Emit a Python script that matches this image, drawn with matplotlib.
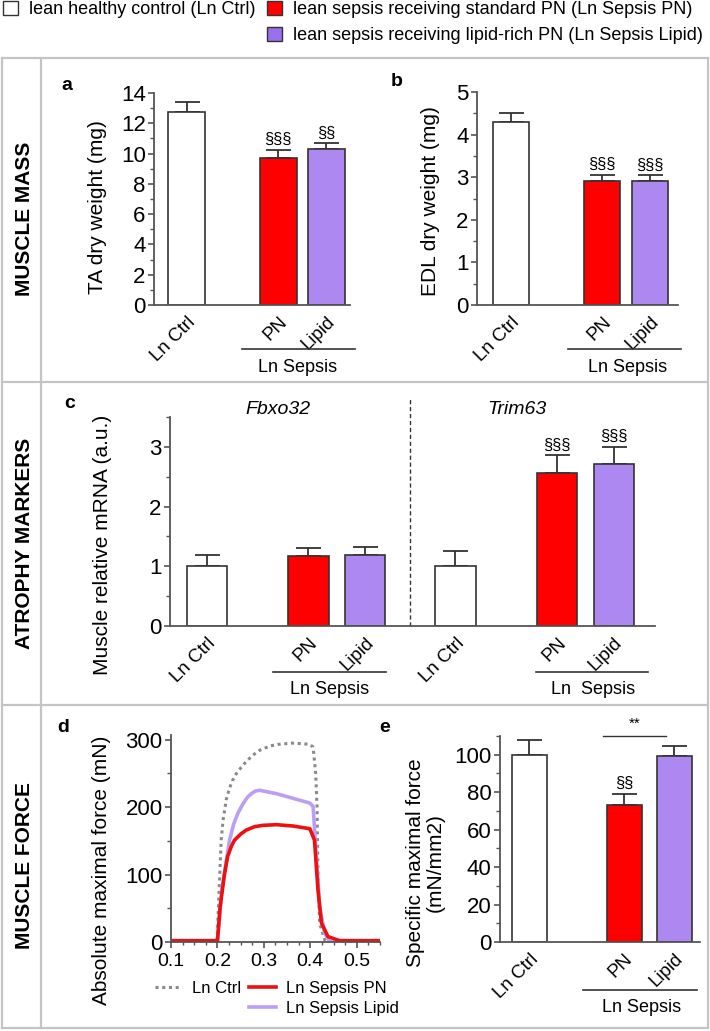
import matplotlib
matplotlib.use("Agg")
import matplotlib.pyplot as plt
from matplotlib.lines import Line2D
from matplotlib.patches import Patch
from matplotlib.ticker import MultipleLocator

plt.rcParams['font.family'] = ['Liberation Sans', 'DejaVu Sans']

# ---- data ----
groups = ['Ln Ctrl', 'PN', 'Lipid']

ta_mean = [12.75, 9.73, 10.28]
ta_err = [0.65, 0.50, 0.40]
ta_sig = ['', '§§§', '§§']

edl_mean = [4.30, 2.92, 2.91]
edl_err = [0.20, 0.13, 0.13]
edl_sig = ['', '§§§', '§§§']

fbxo_mean = [1.00, 1.17, 1.19]
fbxo_err = [0.19, 0.13, 0.14]
trim_mean = [1.00, 2.57, 2.71]
trim_err = [0.26, 0.29, 0.29]
trim_sig = ['', '§§§', '§§§']

spec_mean = [100.0, 72.9, 99.1]
spec_err = [7.8, 6.2, 5.7]
spec_sig = ['', '§§', '']

# force traces (time in s, force in mN)
ctrl_t = [0.10, 0.199, 0.2036, 0.208, 0.212, 0.219, 0.225, 0.232, 0.24, 0.25, 0.26, 0.27,
          0.28, 0.29, 0.30, 0.315, 0.33, 0.36, 0.385, 0.399,
          0.406, 0.4115, 0.4144, 0.4165, 0.420, 0.431, 0.44, 0.55]
ctrl_f = [0, 0, 77, 151, 180, 211, 226, 239, 249, 258, 266, 273,
          279, 284, 287, 291, 293, 295, 294, 293,
          289, 250, 201, 102, 28, 3, 0, 0]
pn_t = [0.10, 0.200, 0.2058, 0.215, 0.222, 0.23, 0.2367, 0.25, 0.262, 0.28, 0.298, 0.327,
        0.363, 0.399, 0.409, 0.4165, 0.424, 0.438, 0.463, 0.55]
pn_f = [2, 2, 52, 100, 127, 142, 151, 160, 166, 171, 173, 174,
        172, 168, 151, 77, 28, 8, 2, 2]
lip_t = [0.10, 0.200, 0.2094, 0.215, 0.226, 0.235, 0.244, 0.255, 0.265, 0.273, 0.282, 0.291,
         0.327, 0.363, 0.399, 0.406, 0.413, 0.420, 0.431, 0.442, 0.55]
lip_f = [0, 0, 77, 102, 151, 175, 191, 205, 215, 220, 224, 225,
         220, 213, 206, 201, 126, 52, 13, 0, 0]

colors = ['white', '#ff0000', '#ac88f0']
edge = '#333333'
spine_c = '#555555'

W, H = 710, 1031
fig = plt.figure(figsize=(W / 100, H / 100), dpi=100)


def fx(px):
    return px / W


def fy(py):
    return 1 - py / H


def axes_px(x0, y0, x1, y1):
    ax = fig.add_axes([x0 / W, 1 - y1 / H, (x1 - x0) / W, (y1 - y0) / H])
    for s in ['top', 'right']:
        ax.spines[s].set_visible(False)
    for s in ['left', 'bottom']:
        ax.spines[s].set_color(spine_c)
        ax.spines[s].set_linewidth(1.3)
    ax.tick_params(axis='y', which='major', length=4, width=1.2, color=spine_c,
                   labelsize=16, pad=2)
    ax.tick_params(axis='y', which='minor', length=3, width=1.0, color=spine_c)
    return ax


def bars(ax, pos, mean, err, width, sig=None):
    ax.bar(pos, mean, width=width, color=colors * (len(pos) // 3),
           edgecolor=edge, linewidth=1.2, zorder=2)
    ax.errorbar(pos, mean, yerr=[[0] * len(mean), err], fmt='none', ecolor=edge,
                elinewidth=1.3, capsize=9, capthick=1.3, zorder=1)
    if sig:
        for p, m, e, s in zip(pos, mean, err, sig):
            if s:
                ax.annotate(s, (p, m + e), xytext=(0, 2), textcoords='offset points',
                            ha='center', va='bottom', fontsize=12)


def xlabels(ax, pos, labels):
    ax.set_xticks(pos)
    ax.set_xticklabels(labels, rotation=45, ha='right', va='top',
                       rotation_mode='anchor', fontsize=13.5)
    ax.tick_params(axis='x', length=0, pad=6)


def fig_line(x0, x1, y, **kw):
    fig.add_artist(Line2D([fx(x0), fx(x1)], [fy(y), fy(y)], color=kw.get('color', '#333333'),
                          lw=kw.get('lw', 1.2)))


def fig_text(x, y, s, **kw):
    fig.text(fx(x), fy(y), s, ha=kw.pop('ha', 'center'), va=kw.pop('va', 'center'), **kw)


# ---- frame ----
frame_c = '#c4c4c4'
for y in [58, 382, 705, 1028]:
    fig_line(2, 708, y, color=frame_c, lw=1.6)
for x in [2, 41, 708]:
    fig.add_artist(Line2D([fx(x), fx(x)], [fy(58), fy(1028)], color=frame_c, lw=1.6))

fig_text(25, 219, 'MUSCLE MASS', rotation=90, fontsize=15, fontweight='bold')
fig_text(25, 543, 'ATROPHY MARKERS', rotation=90, fontsize=15, fontweight='bold')
fig_text(25, 866, 'MUSCLE FORCE', rotation=90, fontsize=15, fontweight='bold')

# ---- top legend ----
handles = [Patch(facecolor=colors[0], edgecolor=edge, lw=1.0),
           Patch(facecolor='none', edgecolor='none'),
           Patch(facecolor=colors[1], edgecolor=edge, lw=1.0),
           Patch(facecolor='#9b70ec', edgecolor=edge, lw=1.0)]
labels = ['lean healthy control (Ln Ctrl)', '',
          'lean sepsis receiving standard PN (Ln Sepsis PN)',
          'lean sepsis receiving lipid-rich PN (Ln Sepsis Lipid)']
fig.legend(handles, labels, ncol=2, loc='upper left', bbox_to_anchor=(fx(3), fy(1)),
           frameon=False, fontsize=13, handlelength=0.85, handleheight=0.85,
           handletextpad=0.6, columnspacing=0.6, labelspacing=0.45,
           borderpad=0, borderaxespad=0)

# ---- panel a ----
pos3 = [0, 1.9, 2.9]
ax = axes_px(154, 93, 350, 305)
bars(ax, pos3, ta_mean, ta_err, 0.77, ta_sig)
ax.set_xlim(-0.68, 3.39)
ax.set_ylim(0, 14)
ax.yaxis.set_major_locator(MultipleLocator(2))
ax.yaxis.set_minor_locator(MultipleLocator(1))
xlabels(ax, pos3, groups)
fig_text(97, 207, 'TA dry weight (mg)', rotation=90, fontsize=15)
fig_text(67, 85, 'a', fontsize=14, fontweight='bold')
fig_line(242, 355, 349)
fig_text(298, 368, 'Ln Sepsis', fontsize=13)

# ---- panel b ----
ax = axes_px(477, 92, 678, 305)
bars(ax, pos3, edl_mean, edl_err, 0.75, edl_sig)
ax.set_xlim(-0.71, 3.48)
ax.set_ylim(0, 5)
ax.yaxis.set_major_locator(MultipleLocator(1))
ax.yaxis.set_minor_locator(MultipleLocator(0.5))
xlabels(ax, pos3, groups)
fig_text(430, 201, 'EDL dry weight (mg)', rotation=90, fontsize=15)
fig_text(397, 82, 'b', fontsize=14, fontweight='bold')
fig_line(568, 681, 349)
fig_text(628, 368, 'Ln Sepsis', fontsize=13)

# ---- panel c ----
pos6 = [0, 1.8, 2.8, 4.4, 6.2, 7.2]
ax = axes_px(170, 417, 655, 626)
bars(ax, pos6, fbxo_mean + trim_mean, fbxo_err + trim_err, 0.71, ['', '', ''] + trim_sig)
ax.set_xlim(-0.65, 7.93)
ax.set_ylim(0, 3.5)
ax.yaxis.set_major_locator(MultipleLocator(1))
ax.yaxis.set_minor_locator(MultipleLocator(0.5))
xlabels(ax, pos6, groups * 2)
ax.vlines(3.59, 0, 3.82, colors='#333333', linestyles=(0, (3, 2)), lw=1.0, clip_on=False)
fig_text(103, 545, 'Muscle relative mRNA (a.u.)', rotation=90, fontsize=15)
fig_text(70, 403, 'c', fontsize=14, fontweight='bold')
fig_text(278, 410, 'Fbxo32', fontsize=14, fontstyle='italic')
fig_text(517, 410, 'Trim63', fontsize=14, fontstyle='italic')
fig_line(273, 386, 672)
fig_text(330, 689, 'Ln Sepsis', fontsize=13)
fig_line(536, 648, 672)
fig_text(593, 689, 'Ln  Sepsis', fontsize=13)

# ---- panel d ----
ax = axes_px(171, 735, 380, 942)
ax.plot(ctrl_t, ctrl_f, color='#8a8a8a', lw=2.2, ls=(0, (1, 1.2)), label='Ln Ctrl')
ax.plot(lip_t, lip_f, color='#bb9ff6', lw=2.6, label='Ln Sepsis Lipid')
ax.plot(pn_t, pn_f, color='#ee1010', lw=2.6, label='Ln Sepsis PN')
ax.set_xlim(0.1, 0.55)
ax.set_ylim(0, 307)
ax.yaxis.set_major_locator(MultipleLocator(100))
ax.yaxis.set_minor_locator(MultipleLocator(50))
ax.xaxis.set_major_locator(MultipleLocator(0.1))
ax.xaxis.set_minor_locator(MultipleLocator(0.025))
ax.tick_params(axis='x', which='major', length=4, width=1.2, color=spine_c, labelsize=14, pad=4)
ax.tick_params(axis='x', which='minor', length=2.5, width=1.0, color=spine_c)
ax.set_xticks([0.1, 0.2, 0.3, 0.4, 0.5])
ax.set_xticklabels(['0.1', '0.2', '0.3', '0.4', '0.5'])
h = ax.get_legend_handles_labels()[0]
leg_h = [h[0], Line2D([], [], alpha=0), h[2], h[1]]
leg_l = ['Ln Ctrl', '', 'Ln Sepsis PN', 'Ln Sepsis Lipid']
ax.legend(leg_h, leg_l, ncol=2, loc='upper left', bbox_to_anchor=(fx(155), fy(981)),
          bbox_transform=fig.transFigure, frameon=False, fontsize=12,
          handlelength=1.6, handletextpad=0.6, columnspacing=0.5, labelspacing=0.3,
          borderpad=0, borderaxespad=0)
fig_text(102, 870, 'Absolute maximal force (mN)', rotation=90, fontsize=15)
fig_text(63, 727, 'd', fontsize=14, fontweight='bold')

# ---- panel e ----
ax = axes_px(500, 736, 700, 942)
bars(ax, pos3, spec_mean, spec_err, 0.7, spec_sig)
ax.set_xlim(-0.59, 3.42)
ax.set_ylim(0, 110)
ax.yaxis.set_major_locator(MultipleLocator(20))
ax.yaxis.set_minor_locator(MultipleLocator(10))
xlabels(ax, pos3, groups)
ax.plot([1.47, 2.73], [110.1, 110.1], color='#333333', lw=1.0, clip_on=False)
ax.text(2.1, 113, '**', ha='center', va='bottom', fontsize=11)
fig_text(425, 863, 'Specific maximal force\n(mN/mm2)', rotation=90, fontsize=15, linespacing=1.05)
fig_text(385, 728, 'e', fontsize=14, fontweight='bold')
fig_line(583, 697, 990)
fig_text(642, 1007, 'Ln Sepsis', fontsize=13)

fig.savefig('out.png', dpi=100)
